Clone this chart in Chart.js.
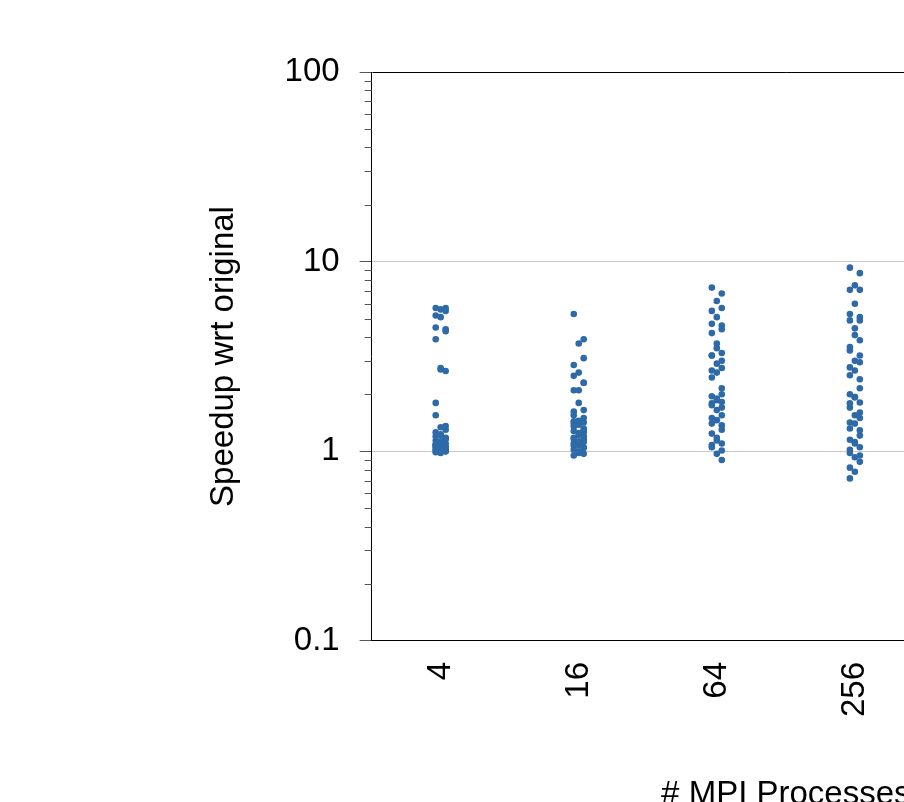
<!DOCTYPE html>
<html>
<head>
<meta charset="utf-8">
<title>Speedup wrt original</title>
<script src="https://cdn.jsdelivr.net/npm/chart.js@4.4.1/dist/chart.umd.min.js"></script>
<style>
  html, body { margin: 0; padding: 0; background: #fff; overflow: hidden; }
  #wrap { position: absolute; left: 0; top: 0; width: 1300px; height: 860px; }
</style>
</head>
<body>
<div id="wrap"><canvas id="chart" width="1300" height="860"></canvas></div>
<script>
// ---- data ------------------------------------------------------------------
const PROCS = ['4', '16', '64', '256', '1024', '4096'];

const SPEEDUP_4 = [5.7, 5.7, 5.6, 5.5, 5.2, 5.1, 4.5, 4.4, 4.3, 3.9, 2.75, 2.7, 2.65, 1.8, 1.55,
  1.36, 1.34, 1.3, 1.26, 1.23, 1.2, 1.18, 1.16, 1.14, 1.12, 1.11, 1.1, 1.08, 1.07, 1.06, 1.05,
  1.04, 1.03, 1.02, 1.01, 1.0, 1.0, 0.99, 0.98, 1.13, 1.17, 1.06, 1.09, 1.02, 1.22];
const SPEEDUP_16 = [5.3, 3.9, 3.7, 3.1, 2.85, 2.6, 2.5, 2.3, 2.3, 2.1, 2.1, 1.8, 1.65, 1.62, 1.55,
  1.5, 1.45, 1.42, 1.4, 1.38, 1.35, 1.32, 1.3, 1.28, 1.25, 1.22, 1.2, 1.18, 1.16, 1.15, 1.13,
  1.12, 1.1, 1.08, 1.07, 1.05, 1.04, 1.02, 1.0, 0.98, 0.97, 0.95, 1.44, 1.26, 1.11];
const SPEEDUP_64 = [7.3, 6.8, 6.2, 5.7, 5.5, 5.1, 4.7, 4.6, 4.4, 4.2, 3.7, 3.5, 3.3, 3.2, 3.2, 3.0,
  2.9, 2.75, 2.67, 2.6, 2.45, 2.15, 2.0, 1.95, 1.9, 1.86, 1.82, 1.79, 1.75, 1.7, 1.65, 1.55, 1.5,
  1.46, 1.4, 1.37, 1.3, 1.24, 1.18, 1.14, 1.1, 1.08, 1.05, 1.01, 0.97, 0.9];
const SPEEDUP_256 = [9.3, 8.7, 7.5, 7.1, 7.1, 6.0, 5.3, 5.1, 4.9, 4.9, 4.45, 4.1, 3.85, 3.55, 3.4,
  3.2, 3.0, 2.95, 2.77, 2.67, 2.52, 2.4, 2.15, 2.0, 1.93, 1.93, 1.81, 1.79, 1.7, 1.6, 1.55, 1.5,
  1.42, 1.4, 1.32, 1.29, 1.21, 1.15, 1.12, 1.1, 1.05, 1.02, 0.98, 0.95, 0.93, 0.88, 0.82, 0.78, 0.72];
// 1024 and 4096 lie outside the visible part of the figure
const SPEEDUP_1024 = [];
const SPEEDUP_4096 = [];

const SERIES = [SPEEDUP_4, SPEEDUP_16, SPEEDUP_64, SPEEDUP_256, SPEEDUP_1024, SPEEDUP_4096];

const Y_MAJOR = [0.1, 1, 10, 100];
const Y_LABELS = ['0.1', '1', '10', '100'];
const Y_MINOR_STEPS = [2, 3, 4, 5, 6, 7, 8, 9];

// ---- style -----------------------------------------------------------------
const FONT = '"Liberation Sans", Arial, Helvetica, sans-serif';
const DOT = '#2e6aa8';
const JITTER = [-1, 1, 0, 1, -1, 0, -1, 1, 1, -1, 0, 0, 1, -1];
const JITTER_W = 0.036;

function isMajor(v) {
  return Y_MAJOR.some((m) => Math.abs(m - v) < 1e-9);
}

const datasets = SERIES.map((vals, i) => ({
  label: PROCS[i],
  data: vals.map((v, k) => ({ x: i + JITTER[k % JITTER.length] * JITTER_W, y: v })),
  backgroundColor: DOT,
  borderWidth: 0,
  pointRadius: 3.3,
  pointHoverRadius: 3.3,
}));

// box frame + short minor ticks on the y axis
const framePlugin = {
  id: 'frame',
  afterDraw(chart) {
    const { ctx, chartArea: a } = chart;
    const y = chart.scales.y;
    ctx.save();
    ctx.strokeStyle = '#000';
    ctx.lineWidth = 1;
    ctx.beginPath();
    ctx.moveTo(Math.round(a.left) + 0.5, Math.round(a.top) + 0.5);
    ctx.lineTo(Math.round(a.right) + 0.5, Math.round(a.top) + 0.5);
    ctx.lineTo(Math.round(a.right) + 0.5, Math.round(a.bottom) + 0.5);
    ctx.stroke();
    ctx.strokeStyle = '#555';
    ctx.beginPath();
    y.ticks.forEach((t) => {
      if (isMajor(t.value)) return;
      const py = Math.round(y.getPixelForValue(t.value)) + 0.5;
      ctx.moveTo(a.left - 7, py);
      ctx.lineTo(a.left, py);
    });
    ctx.stroke();
    ctx.restore();
  },
};

new Chart(document.getElementById('chart'), {
  type: 'scatter',
  data: { datasets },
  plugins: [framePlugin],
  options: {
    responsive: false,
    animation: false,
    devicePixelRatio: 1,
    layout: { padding: { left: 204, top: 72, right: 100, bottom: 41 } },
    plugins: { legend: { display: false }, tooltip: { enabled: false } },
    scales: {
      x: {
        type: 'linear',
        min: -0.5,
        max: PROCS.length - 0.5,
        afterBuildTicks: (scale) => {
          scale.ticks = PROCS.map((p, i) => ({ value: i }));
        },
        ticks: {
          callback: (v) => PROCS[v] ?? '',
          autoSkip: false,
          minRotation: 90,
          maxRotation: 90,
          padding: 21,
          color: '#000',
          font: { family: FONT, size: 33 },
        },
        grid: { display: false, drawTicks: false, tickLength: 0 },
        border: { display: true, color: '#000', width: 1 },
        title: {
          display: true,
          text: '# MPI Processes',
          color: '#000',
          font: { family: FONT, size: 33 },
          padding: { top: 19, bottom: 4 },
        },
      },
      y: {
        type: 'logarithmic',
        min: 0.1,
        max: 100,
        afterBuildTicks: (scale) => {
          const ticks = [];
          Y_MAJOR.forEach((m, i) => {
            ticks.push({ value: m, major: true });
            if (i < Y_MAJOR.length - 1) {
              Y_MINOR_STEPS.forEach((s) => ticks.push({ value: +(m * s).toPrecision(3), major: false }));
            }
          });
          scale.ticks = ticks;
        },
        ticks: {
          callback: (v) => {
            const i = Y_MAJOR.findIndex((m) => Math.abs(m - v) < 1e-9);
            return i >= 0 ? Y_LABELS[i] : '';
          },
          autoSkip: false,
          padding: 20,
          color: '#000',
          font: { family: FONT, size: 33 },
        },
        grid: {
          drawOnChartArea: true,
          drawTicks: true,
          tickLength: 12,
          color: (c) => (isMajor(c.tick.value) ? '#c8c8c8' : 'rgba(0,0,0,0)'),
          tickColor: (c) => (isMajor(c.tick.value) ? '#555' : 'rgba(0,0,0,0)'),
        },
        border: { display: true, color: '#000', width: 1 },
        title: {
          display: true,
          text: 'Speedup wrt original',
          color: '#000',
          font: { family: FONT, size: 33 },
          padding: { top: 0, bottom: 21 },
        },
      },
    },
  },
});
</script>
</body>
</html>
